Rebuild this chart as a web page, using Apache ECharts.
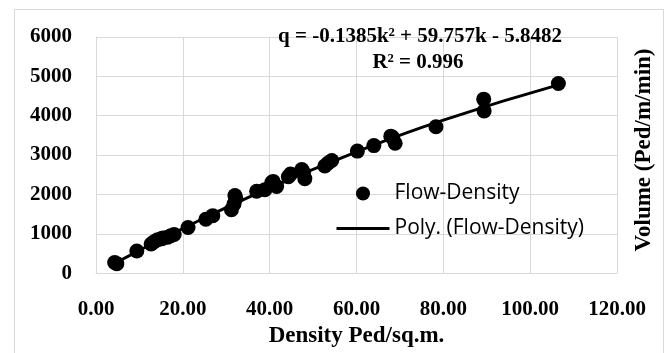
<!DOCTYPE html>
<html><head><meta charset="utf-8">
<script src="https://cdn.jsdelivr.net/npm/echarts@6/dist/echarts.min.js"></script>
<style>html,body{margin:0;padding:0;background:#fff}#c{width:670px;height:353px}</style>
</head><body><div id="c"></div>
<script>
// Flow-Density observations (density, volume)
const densityValues = [4.3, 4.8, 9.4, 12.7, 13.3, 14.2, 15.0, 15.4, 16.5, 17.2, 18.0, 21.2, 25.3, 26.9, 31.2, 31.8, 32.0, 32.2, 37.0, 38.9, 40.5, 40.8, 41.6, 44.3, 44.8, 47.4, 47.8, 48.1, 52.7, 53.4, 54.3, 60.2, 64.0, 67.9, 68.3, 68.9, 78.3, 89.3, 89.4, 106.5];
const volumeValues = [270, 240, 560, 740, 790, 850, 870, 890, 910, 950, 980, 1160, 1370, 1460, 1610, 1760, 1970, 1900, 2080, 2120, 2300, 2330, 2200, 2450, 2520, 2630, 2560, 2400, 2720, 2790, 2860, 3100, 3240, 3480, 3450, 3300, 3720, 4420, 4120, 4820];
// Trend line points
const trendDensity = [4.3, 20, 40, 60, 80, 106.5];
const trendVolume = [248, 1134, 2163, 3081, 3888, 4782];
const xTicks = [0, 20, 40, 60, 80, 100, 120];
const yTicks = [0, 1000, 2000, 3000, 4000, 5000, 6000];
const seriesNames = ['Flow-Density', 'Poly. (Flow-Density)'];
const equationText = 'q = -0.1385k\u00b2 + 59.757k - 5.8482';
const r2Text = 'R\u00b2 = 0.996';
const xTitle = 'Density Ped/sq.m.';
const yTitle = 'Volume (Ped/m/min)';

const serif = '"Liberation Serif", "Times New Roman", serif';
const chart = echarts.init(document.getElementById('c'), null, {renderer: 'canvas'});
const scatterData = densityValues.map((d, i) => [d, volumeValues[i]]);
const trendData = trendDensity.map((d, i) => [d, trendVolume[i]]);
chart.setOption({
  animation: false,
  grid: {left: 96, right: 53, top: 37, bottom: 66, containLabel: false},
  xAxis: {
    type: 'value', min: xTicks[0], max: xTicks[xTicks.length - 1], interval: xTicks[1] - xTicks[0],
    axisLine: {show: true, lineStyle: {color: '#d9d9d9', width: 1}},
    axisTick: {show: false},
    splitLine: {show: true, lineStyle: {color: '#d9d9d9', width: 1}},
    axisLabel: {formatter: v => v.toFixed(2), color: '#000', fontFamily: serif, fontWeight: 'bold', fontSize: 21, margin: 26},
    name: xTitle, nameLocation: 'middle', nameGap: 50,
    nameTextStyle: {color: '#000', fontFamily: serif, fontWeight: 'bold', fontSize: 23}
  },
  yAxis: {
    type: 'value', min: yTicks[0], max: yTicks[yTicks.length - 1], interval: yTicks[1] - yTicks[0],
    axisLine: {show: true, lineStyle: {color: '#d9d9d9', width: 1}},
    axisTick: {show: false},
    splitLine: {show: true, lineStyle: {color: '#d9d9d9', width: 1}},
    axisLabel: {formatter: v => String(v), color: '#000', fontFamily: serif, fontWeight: 'bold', fontSize: 21, margin: 24}
  },
  legend: {
    orient: 'vertical', left: 335, top: 183, padding: 0, itemWidth: 53, itemHeight: 14, itemGap: 14,
    textStyle: {fontFamily: '"Open Sans", "Noto Sans", sans-serif', fontSize: 21, color: '#000'},
    data: [
      {name: seriesNames[0], icon: 'circle', itemStyle: {color: '#000', opacity: 1}},
      {name: seriesNames[1], itemStyle: {opacity: 0}, lineStyle: {color: '#000', width: 3}}
    ]
  },
  graphic: [
    {type: 'rect', shape: {x: 14.5, y: 9.5, width: 649, height: 360}, style: {fill: 'none', stroke: '#d9d9d9', lineWidth: 1}, silent: true, z: -1},
    {type: 'text', style: {text: equationText, x: 420, y: 37, align: 'center', verticalAlign: 'middle', font: 'bold 21px ' + serif, fill: '#000'}, z: 10},
    {type: 'text', style: {text: r2Text, x: 418, y: 63, align: 'center', verticalAlign: 'middle', font: 'bold 21px ' + serif, fill: '#000'}, z: 10},
    {type: 'text', x: 644, y: 150, rotation: Math.PI / 2, style: {text: yTitle, x: 0, y: 0, align: 'center', verticalAlign: 'middle', font: 'bold 23px ' + serif, fill: '#000'}}
  ],
  series: [
    {name: seriesNames[0], type: 'scatter', data: scatterData, symbol: 'circle', symbolSize: 15, itemStyle: {color: '#000', opacity: 1}, z: 3},
    {name: seriesNames[1], type: 'line', data: trendData, smooth: true, showSymbol: false, symbol: 'none', lineStyle: {color: '#000', width: 3}, itemStyle: {color: '#000'}, z: 2}
  ]
});
</script></body></html>
